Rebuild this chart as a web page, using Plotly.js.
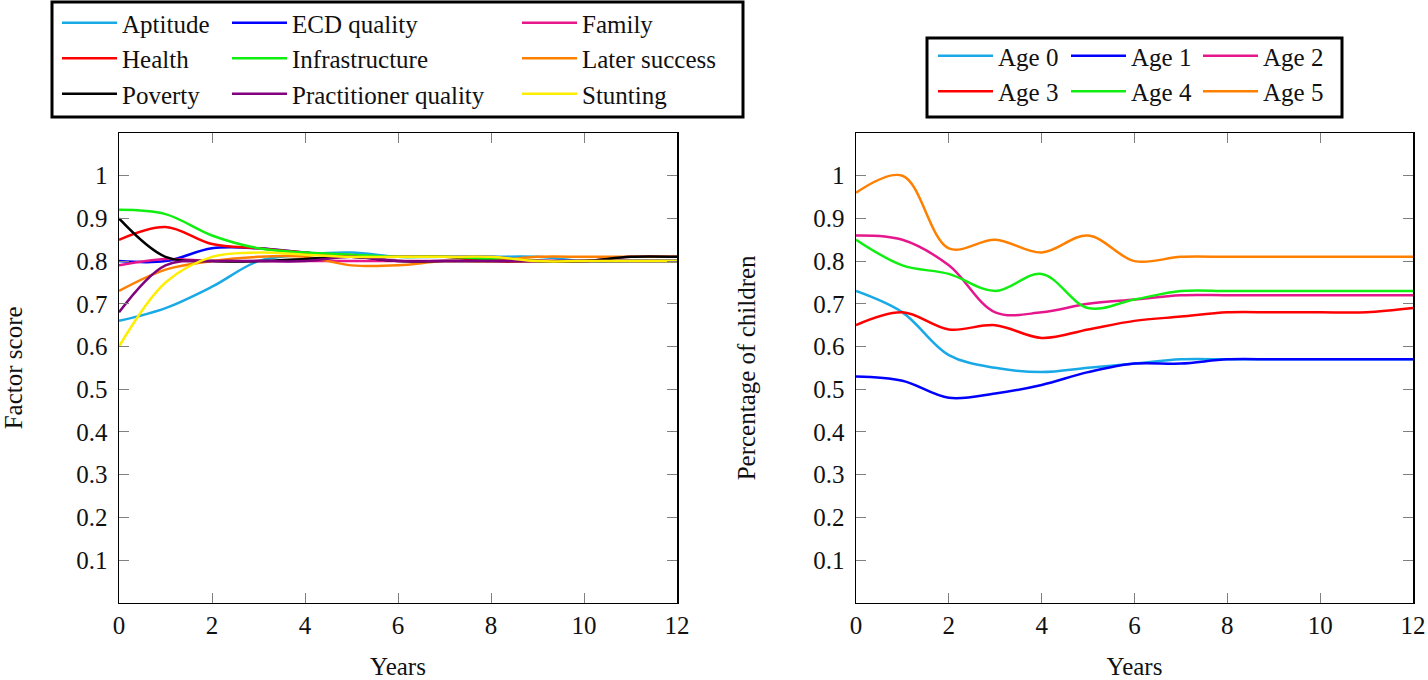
<!DOCTYPE html>
<html>
<head>
<meta charset="utf-8">
<script src="https://cdn.plot.ly/plotly-3.0.1.min.js"></script>
<style>html,body{margin:0;padding:0;background:#fff;}#chart{width:1428px;height:680px;}</style>
</head>
<body>
<div id="chart"></div>
<script>
// ---- data ----
var years = [0, 1, 2, 3, 4, 5, 6, 7, 8, 9, 10, 11, 12];

var factorNames = ["Aptitude", "ECD quality", "Family", "Health", "Infrastructure", "Later success", "Poverty", "Practitioner quality", "Stunting"];
var aptitude     = [0.66, 0.69, 0.74, 0.80, 0.815, 0.82, 0.81, 0.81, 0.81, 0.81, 0.80, 0.80, 0.80];
var ecdQuality   = [0.80, 0.80, 0.83, 0.83, 0.82, 0.81, 0.81, 0.81, 0.81, 0.80, 0.80, 0.80, 0.80];
var family       = [0.79, 0.805, 0.80, 0.80, 0.80, 0.80, 0.80, 0.80, 0.80, 0.80, 0.80, 0.81, 0.81];
var health       = [0.85, 0.88, 0.84, 0.83, 0.82, 0.81, 0.81, 0.81, 0.80, 0.80, 0.80, 0.80, 0.80];
var infrastructure = [0.92, 0.91, 0.86, 0.83, 0.82, 0.815, 0.81, 0.81, 0.805, 0.80, 0.80, 0.80, 0.80];
var laterSuccess = [0.73, 0.78, 0.80, 0.81, 0.81, 0.79, 0.79, 0.80, 0.80, 0.81, 0.81, 0.81, 0.81];
var poverty      = [0.90, 0.81, 0.80, 0.80, 0.805, 0.81, 0.80, 0.80, 0.80, 0.80, 0.80, 0.81, 0.81];
var practitioner = [0.68, 0.79, 0.80, 0.80, 0.80, 0.81, 0.80, 0.80, 0.80, 0.80, 0.80, 0.80, 0.80];
var stunting     = [0.60, 0.75, 0.81, 0.82, 0.815, 0.81, 0.81, 0.81, 0.81, 0.80, 0.80, 0.80, 0.80];

var ageNames = ["Age 0", "Age 1", "Age 2", "Age 3", "Age 4", "Age 5"];
var age0 = [0.73, 0.68, 0.58, 0.55, 0.54, 0.55, 0.56, 0.57, 0.57, 0.57, 0.57, 0.57, 0.57];
var age1 = [0.53, 0.52, 0.48, 0.49, 0.51, 0.54, 0.56, 0.56, 0.57, 0.57, 0.57, 0.57, 0.57];
var age2 = [0.86, 0.85, 0.79, 0.68, 0.68, 0.70, 0.71, 0.72, 0.72, 0.72, 0.72, 0.72, 0.72];
var age3 = [0.65, 0.68, 0.64, 0.65, 0.62, 0.64, 0.66, 0.67, 0.68, 0.68, 0.68, 0.68, 0.69];
var age4 = [0.85, 0.79, 0.77, 0.73, 0.77, 0.69, 0.71, 0.73, 0.73, 0.73, 0.73, 0.73, 0.73];
var age5 = [0.96, 1.00, 0.83, 0.85, 0.82, 0.86, 0.80, 0.81, 0.81, 0.81, 0.81, 0.81, 0.81];

var xTickVals = [0, 2, 4, 6, 8, 10, 12];
var yTickVals = [0.1, 0.2, 0.3, 0.4, 0.5, 0.6, 0.7, 0.8, 0.9, 1.0];
var yTickText = ["0.1", "0.2", "0.3", "0.4", "0.5", "0.6", "0.7", "0.8", "0.9", "1"];

// ---- styling ----
var FONT = "Liberation Serif, Times New Roman, serif";
var W = 1428, H = 680;
function px(x) { return x / W; }
function py(y) { return 1 - y / H; }

var factorSeries = [aptitude, ecdQuality, family, health, infrastructure, laterSuccess, poverty, practitioner, stunting];
var factorColors = ["#19a9e6", "#0000ff", "#e6168c", "#ff0000", "#11ee11", "#ff8000", "#000000", "#800080", "#ffee00"];
var factorLegends = ["legend", "legend2", "legend3", "legend", "legend2", "legend3", "legend", "legend2", "legend3"];

var ageSeries = [age0, age1, age2, age3, age4, age5];
var ageColors = ["#19a9e6", "#0000ff", "#e6168c", "#ff0000", "#11ee11", "#ff8000"];
var ageLegends = ["legend4", "legend5", "legend6", "legend4", "legend5", "legend6"];

var traces = [];
factorSeries.forEach(function (s, i) {
  traces.push({
    x: years, y: s, name: factorNames[i], type: "scatter", mode: "lines",
    line: { color: factorColors[i], width: 2.5, shape: "spline", smoothing: 1 },
    xaxis: "x", yaxis: "y", legend: factorLegends[i]
  });
});
ageSeries.forEach(function (s, i) {
  traces.push({
    x: years, y: s, name: ageNames[i], type: "scatter", mode: "lines",
    line: { color: ageColors[i], width: 2.5, shape: "spline", smoothing: 1 },
    xaxis: "x2", yaxis: "y2", legend: ageLegends[i]
  });
});

function xAxis(domain, anchor) {
  return {
    domain: domain, anchor: anchor, range: [0, 12], tickvals: xTickVals,
    ticks: "inside", ticklen: 10, tickcolor: "#808080", tickwidth: 1,
    showline: true, linecolor: "#000", linewidth: 1.5, mirror: "allticks",
    showgrid: false, zeroline: false,
    tickfont: { family: FONT, size: 25, color: "#111" },
    title: { text: "Years", font: { family: FONT, size: 25, color: "#111" }, standoff: 20 }
  };
}
function yAxis(domain, anchor, title) {
  return {
    domain: domain, anchor: anchor, range: [0, 1.1], tickvals: yTickVals, ticktext: yTickText,
    ticks: "inside", ticklen: 10, tickcolor: "#808080", tickwidth: 1,
    showline: true, linecolor: "#000", linewidth: 1.5, mirror: "allticks",
    showgrid: false, zeroline: false, ticklabelstandoff: 5,
    tickfont: { family: FONT, size: 25, color: "#111" },
    title: { text: title, font: { family: FONT, size: 25, color: "#111" }, standoff: 50 }
  };
}

function leg(xPix, yPix) {
  return {
    x: px(xPix), y: py(yPix), xanchor: "left", yanchor: "top",
    orientation: "v", bgcolor: "rgba(0,0,0,0)", borderwidth: 0,
    font: { family: FONT, size: 25, color: "#111" }, itemwidth: 55, traceorder: "normal"
  };
}

var yDom = [py(602.7), py(133)];
var layout = {
  width: W, height: H,
  margin: { l: 0, r: 0, t: 0, b: 0 },
  paper_bgcolor: "#fff", plot_bgcolor: "#fff",
  showlegend: true,
  xaxis: xAxis([px(119), px(677)], "y"),
  yaxis: yAxis(yDom, "x", "Factor score"),
  xaxis2: xAxis([px(856), px(1413)], "y2"),
  yaxis2: yAxis(yDom, "x2", "Percentage of children"),
  legend: leg(57, 0),
  legend2: leg(227, 0),
  legend3: leg(517, 0),
  legend4: leg(933, 33),
  legend5: leg(1066, 33),
  legend6: leg(1198, 33),
  shapes: [
    { type: "rect", xref: "paper", yref: "paper", x0: px(52), x1: px(743), y0: py(117), y1: py(2),
      line: { color: "#000", width: 3 }, fillcolor: "rgba(0,0,0,0)" },
    { type: "rect", xref: "paper", yref: "paper", x0: px(927), x1: px(1342), y0: py(117), y1: py(38),
      line: { color: "#000", width: 3 }, fillcolor: "rgba(0,0,0,0)" }
  ]
};

Plotly.newPlot("chart", traces, layout, { displayModeBar: false, staticPlot: true });
</script>
</body>
</html>
